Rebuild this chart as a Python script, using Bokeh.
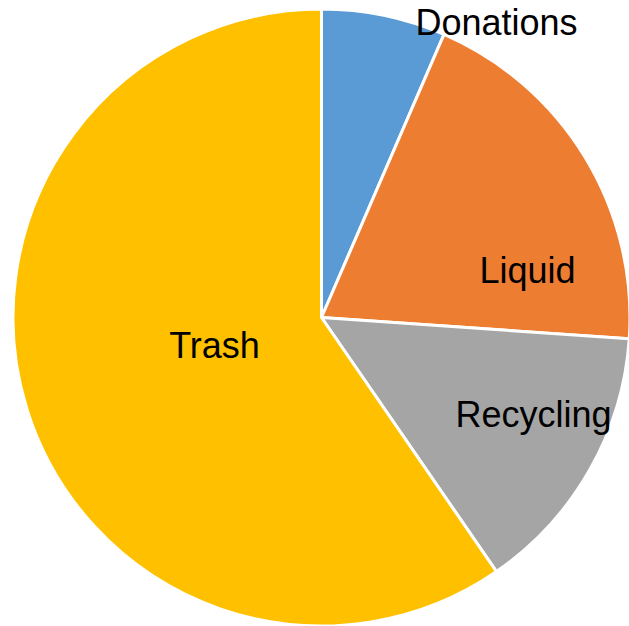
import math
from bokeh.plotting import figure
from bokeh.models import ColumnDataSource
from bokeh.core.properties import value
from bokeh.embed import file_html
from bokeh.resources import INLINE

# ---- data ----
categories = ["Donations", "Liquid", "Recycling", "Trash"]
shares = [6.5, 19.6, 14.3, 59.6]
colors = ["#5B9BD5", "#ED7D31", "#A5A5A5", "#FFC000"]

# ---- label placement (pixel coordinates from top-left) ----
label_x = [496, 527, 533, 214]
label_y = [22, 270, 414, 345]

W, H = 629, 626
cx, cy, r = 321, H - 317, 308.5

total = sum(shares)
starts, ends = [], []
acc = 0.0
for s in shares:
    a0 = math.pi / 2 - acc / total * 2 * math.pi
    acc += s
    a1 = math.pi / 2 - acc / total * 2 * math.pi
    starts.append(a0)
    ends.append(a1)

src = ColumnDataSource(dict(cat=categories, val=shares, color=colors,
                            start=starts, end=ends))

p = figure(width=W, height=H, x_range=(0, W), y_range=(0, H),
           output_backend="svg", toolbar_location=None, min_border=0,
           outline_line_color=None)
p.axis.visible = False
p.grid.visible = False
p.background_fill_color = "white"
p.border_fill_color = "white"

p.wedge(x=cx, y=cy, radius=r, start_angle="start", end_angle="end",
        direction="clock", fill_color="color", line_color="white",
        line_width=3, source=src)

lsrc = ColumnDataSource(dict(x=label_x,
                             y=[H - v for v in label_y],
                             t=categories))
p.text(x="x", y="y", text="t", source=lsrc, text_align="center",
       text_baseline="alphabetic", text_font=value("Liberation Sans"),
       text_font_size="36px", text_color="black")

open("out.html", "w").write(file_html(p, INLINE))
